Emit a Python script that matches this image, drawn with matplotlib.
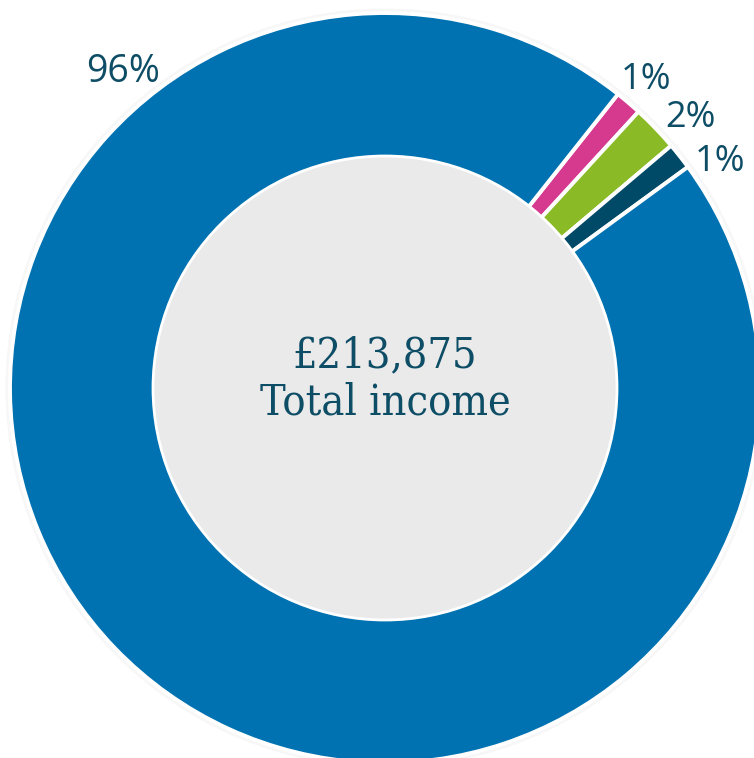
"""Donut chart of total income split by source."""

import numpy as np
import matplotlib.pyplot as plt
from matplotlib.patches import Circle

# slices, clockwise from the top-right gap (shares in %)
shares = [1.15, 2.0, 1.15, 95.7]
colors = ["#D63A8F", "#8ABB26", "#004A67", "#0072B1"]
labels = [f"{round(s)}%" for s in shares]
# label placement (angle in degrees, radius in pie units)
label_angles = [49.7, 41.5, 34.0, 129.7]
label_radii = [1.077, 1.086, 1.078, 1.095]
label_sizes = [26, 26, 26, 27]

total = "£213,875"
caption = "Total income"

INK = "#0E4D66"

fig = plt.figure(figsize=(7.54, 7.58), dpi=100)
ax = fig.add_axes([0, 0, 1, 1])

# faint halo around the outer edge
ax.add_patch(Circle((0, 0), 1.012, facecolor="#F7F7F7", edgecolor="none", zorder=0))

ax.pie(
    shares,
    colors=colors,
    startangle=51.6,
    counterclock=False,
    radius=1.0,
    wedgeprops=dict(edgecolor="white", linewidth=2.8),
    frame=True,
)
ax.set_xlim(-385 / 375, 369 / 375)
ax.set_ylim(-370 / 375, 388 / 375)
ax.set_aspect("auto")
ax.axis("off")

# inner disc
ax.add_patch(Circle((0, 0), 232 / 375, facecolor="#EAEAEA", edgecolor="white",
                    linewidth=2.0, zorder=3))

for text, ang, r, size in zip(labels, label_angles, label_radii, label_sizes):
    a = np.deg2rad(ang)
    ax.text(r * np.cos(a), r * np.sin(a), text, ha="center", va="center",
            fontsize=size, color=INK, family="Open Sans", zorder=4)

# slab-ish serif for the centre caption
center_font = dict(family="DejaVu Serif", stretch="condensed", fontsize=31,
                   color=INK, ha="center", va="baseline", zorder=4)
ax.text(0, 0.056, total, **center_font)
ax.text(0, -0.072, caption, **center_font)

fig.savefig("out.png", dpi=100, facecolor="white")
